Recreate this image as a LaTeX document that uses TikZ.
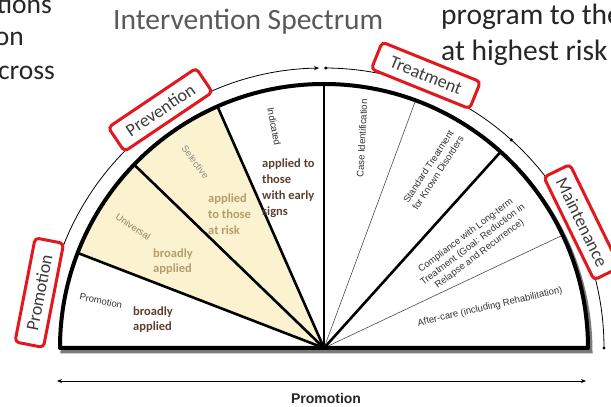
\documentclass[tikz,border=0pt]{standalone}
\usepackage{fontspec}
\setmainfont{Carlito}
\newfontfamily\arialfont{Liberation Sans}
\usetikzlibrary{arrows.meta}

\definecolor{boxred}{HTML}{E3171E}
\definecolor{paleyellow}{HTML}{FBF3CF}
\definecolor{labeltan}{HTML}{B39E6E}
\definecolor{darkbrown}{HTML}{5C4030}
\definecolor{titlegray}{HTML}{595959}
\definecolor{bodytext}{HTML}{262626}
\definecolor{tagtext}{HTML}{3C3C3C}
\definecolor{shadowgray}{HTML}{7A7A7A}
\definecolor{seggray}{HTML}{333333}

\begin{document}
\begin{tikzpicture}[x=1pt,y=1pt,
  tag/.style={draw=boxred, line width=3pt, rounded corners=4pt, fill=white,
    text=tagtext, font=\fontsize{18}{18}\selectfont, inner xsep=9pt,
    minimum width=106pt, minimum height=29pt},
  bigtext/.style={text=bodytext, font=\fontsize{29.5}{29.5}\selectfont, inner sep=0pt},
  sidetext/.style={text=bodytext, font=\fontsize{27.5}{27.5}\selectfont, inner sep=0pt},
  seglabel/.style={text=seggray, font=\arialfont\fontsize{9.5}{11.5}\selectfont,
    inner sep=0pt, align=center},
  reach/.style={font=\fontsize{12.5}{16}\selectfont\bfseries, inner sep=0pt, align=left},
  heavyspoke/.style={line width=2.6pt},
  lightspoke/.style={line width=0.6pt, draw=black!70},
  rim/.style={line width=4pt, line join=round}]

\useasboundingbox (-324,-59) rectangle (287,348);
\clip (-324,-59) rectangle (287,348);

\coordinate (O) at (0,0);

% drop shadow of the half disc
\draw[shadowgray, line width=4pt, shift={(2.5,-3.5)}]
  (0:264) arc[start angle=0, end angle=180, radius=264] -- cycle;

% half disc and the two shaded prevention sectors
\fill[white] (0:264) arc[start angle=0, end angle=180, radius=264] -- cycle;
\fill[paleyellow] (O) -- (113.8:264) arc[start angle=113.8, end angle=158.9, radius=264] -- cycle;

% spokes
\draw[heavyspoke] (O) -- (158.9:264);
\draw[heavyspoke] (O) -- (136:264);
\draw[heavyspoke] (O) -- (113.8:264);
\draw[heavyspoke] (O) -- (90:264);
\draw[lightspoke] (O) -- (69.7:264);
\draw[heavyspoke] (O) -- (48:264);
\draw[lightspoke] (O) -- (25.3:264);

% rim
\draw[rim] (0:264) arc[start angle=0, end angle=180, radius=264] -- cycle;

% thin outer arc with its marks
\draw[line width=0.8pt, -{Stealth[length=5pt,width=4pt]}]
  (166:280) arc[start angle=166, end angle=91, radius=280];
\draw[line width=0.8pt] (90:280) arc[start angle=90, end angle=0, radius=280];
\fill (89.6:280) circle (1.7);
\fill (48:280) circle (1.7);
\fill (0:280) circle (1.7);

% red tags on the rim
\node[tag, rotate=79]  (tagpromo)  at (169:290) {Promotion};
\node[tag, rotate=34]  (tagprev)   at (124.5:289) {Prevention};
\node[tag, rotate=-22] (tagtreat)  at (69.5:291) {Treatment};
\node[tag, rotate=-64] (tagmaint)  at (26:287) {Maintenance};

% sector names
\node[seglabel, rotate=-12] (lblpromo) at (168.1:228) {Promotion};
\node[seglabel, rotate=-34, text=labeltan!80!black] (lbluniv) at (147.6:226) {Universal};
\node[seglabel, rotate=-53, text=black!45] (lblsel) at (124.7:226) {Selective};
\node[seglabel, rotate=-79] (lblind) at (102.7:227) {Indicated};
\node[seglabel, rotate=87] (lblcase) at (79.7:213) {Case Identification};
\node[seglabel, rotate=57] (lblstd) at (58.5:209) {Standard Treatment\\for Known Disorders};
\node[seglabel, rotate=37] (lblcomp) at (34.7:181) {Compliance with Long-term\\Treatment (Goal: Reduction in\\Relapse and Recurrence)};
\node[seglabel, rotate=13] (lblafter) at (13.9:171) {After-care (including Rehabilitation)};

% reach of each intervention
\node[reach, text=darkbrown, anchor=west] (reachind) at (-62,160) {applied to\\those\\with early\\signs};
\node[reach, text=labeltan, anchor=west] (reachsel) at (-116,133.5) {applied\\to those\\at risk};
\node[reach, text=labeltan, anchor=west, font=\fontsize{12.5}{15}\selectfont\bfseries] (reachuniv) at (-171,86) {broadly\\applied};
\node[reach, text=darkbrown, anchor=west, font=\fontsize{12.5}{15}\selectfont\bfseries] (reachpromo) at (-191,28) {broadly\\applied};

% headings and surrounding text
\node[bigtext, text=titlegray, anchor=base west] (title) at (-211,318) {Intervention Spectrum};
\node[bigtext, anchor=base west] (rtop) at (117,323) {program to the};
\node[bigtext, anchor=base west] (rbot) at (117,287) {at highest risk};
\node[sidetext, anchor=base east] (ltop) at (-272,334) {tions};
\node[sidetext, anchor=base east] (lmid) at (-300,302) {on};
\node[sidetext, anchor=base east] (lbot) at (-269,268) {cross};

% promotion axis under the half disc
\coordinate (axisL) at (-267,-33);
\coordinate (axisR) at (262,-33);
\draw[line width=0.9pt, {Stealth[length=5pt,width=4pt]}-{Stealth[length=5pt,width=4pt]}] (axisL) -- (axisR);
\node[anchor=base, inner sep=0pt, text=bodytext, font=\arialfont\bfseries\fontsize{14}{14}\selectfont] (axislbl) at (2,-56) {Promotion};

\end{tikzpicture}
\end{document}
